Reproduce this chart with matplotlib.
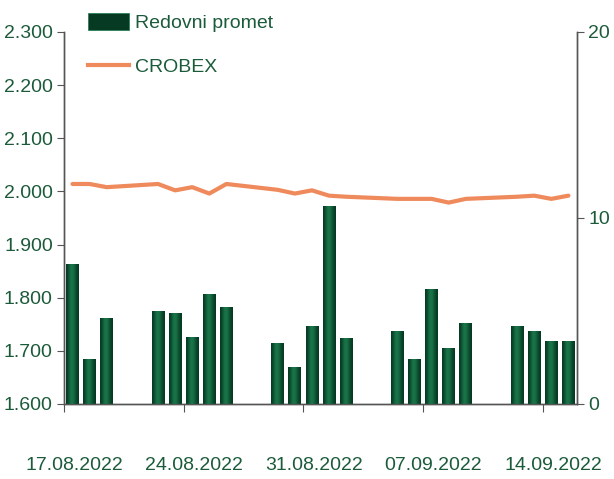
import datetime as dt

import matplotlib
matplotlib.use('Agg')
import matplotlib.pyplot as plt
import matplotlib.dates as mdates
from matplotlib.lines import Line2D
from matplotlib.patches import Patch
import numpy as np

# ---------------------------------------------------------------------------
#  Data
# ---------------------------------------------------------------------------
trading_days = [
    '17.08.2022', '18.08.2022', '19.08.2022',
    '22.08.2022', '23.08.2022', '24.08.2022', '25.08.2022', '26.08.2022',
    '29.08.2022', '30.08.2022', '31.08.2022', '01.09.2022', '02.09.2022',
    '05.09.2022', '06.09.2022', '07.09.2022', '08.09.2022', '09.09.2022',
    '12.09.2022', '13.09.2022', '14.09.2022', '15.09.2022',
]
# regular turnover (right axis)
redovni_promet = [
    7.5, 2.4, 4.6,
    5.0, 4.9, 3.6, 5.9, 5.2,
    3.3, 2.0, 4.2, 10.65, 3.55,
    3.9, 2.4, 6.2, 3.0, 4.35,
    4.2, 3.9, 3.4, 3.4,
]
# CROBEX index (left axis)
crobex = [
    2014, 2014, 2008,
    2014, 2002, 2008, 1996, 2014,
    2003, 1996, 2002, 1992, 1990,
    1986, 1986, 1986, 1979, 1986,
    1990, 1992, 1986, 1992,
]
tick_days = ['17.08.2022', '24.08.2022', '31.08.2022', '07.09.2022', '14.09.2022']
x_start, x_end = '17.08.2022', '16.09.2022'

GREEN_TXT = '#1c5b3a'
BAR_DARK = '#063a22'
BAR_MID = '#1b7a4e'
ORANGE = '#ef8a5c'
AXIS_CLR = '#555555'
FS = 14

plt.rcParams['font.family'] = ['Liberation Sans Narrow', 'Liberation Sans', 'DejaVu Sans']


def to_num(s):
    return mdates.date2num(dt.datetime.strptime(s, '%d.%m.%Y'))


# bars / points sit in the middle of their day
x = np.array([to_num(d) for d in trading_days]) + 0.5

fig = plt.figure(figsize=(6.14, 4.79), dpi=100)
ax = fig.add_axes([0.1042, 0.1566, 0.8355, 0.7766])
ax2 = ax.twinx()

# left axis: CROBEX, right axis: turnover -> bars on ax2, kept behind the line
ax.set_zorder(2)
ax.patch.set_visible(False)

bars = ax2.bar(x, redovni_promet, width=0.75, color=BAR_DARK, linewidth=0, zorder=2)
grad = np.array([[0.0, 0.55, 1.0, 0.8, 0.35, 0.0]])
cmap = matplotlib.colors.LinearSegmentedColormap.from_list('bar', [BAR_DARK, BAR_MID])
for b in bars:
    x0, w, h = b.get_x(), b.get_width(), b.get_height()
    im = ax2.imshow(grad, cmap=cmap, aspect='auto', extent=[x0, x0 + w, 0, h],
                    interpolation='bicubic', zorder=3)
    im.set_clip_path(b)

ax.plot(x, crobex, color=ORANGE, lw=3, solid_capstyle='round')

ax.set_xlim(to_num(x_start), to_num(x_end))
ax.set_ylim(1600, 2300)
ax2.set_ylim(0, 20)

ax.set_yticks(np.arange(1600, 2301, 100))
ax.set_yticklabels([f'{v / 1000:.3f}' for v in range(1600, 2301, 100)])
ax2.set_yticks([0, 10, 20])

# tick marks at day boundaries, labels centred on the day
ax.set_xticks([to_num(d) for d in tick_days])
ax.set_xticklabels([])
ax.set_xticks([to_num(d) + 0.6 for d in tick_days], minor=True)
ax.set_xticklabels(tick_days, minor=True)
ax.tick_params(axis='x', which='minor', length=0, pad=38, labelsize=FS, labelcolor=GREEN_TXT)
ax.tick_params(axis='x', which='major', length=6, color=AXIS_CLR, direction='out')
ax.tick_params(axis='y', length=5, color=AXIS_CLR, labelsize=FS, labelcolor=GREEN_TXT, pad=3)
ax2.tick_params(axis='y', length=5, color=AXIS_CLR, labelsize=FS, labelcolor=GREEN_TXT, pad=3)

for a in (ax, ax2):
    a.spines['top'].set_visible(False)
    for s in ('left', 'right', 'bottom'):
        a.spines[s].set_color(AXIS_CLR)
        a.spines[s].set_linewidth(1.0)
ax2.tick_params(axis='x', which='both', length=0, labelbottom=False)

handles = [Patch(facecolor=BAR_DARK, edgecolor=BAR_MID, lw=0.5, label='Redovni promet'),
           Line2D([], [], color=ORANGE, lw=3, label='CROBEX')]
leg = ax.legend(handles=handles, loc='upper left', bbox_to_anchor=(0.047, 1.05),
                frameon=False, fontsize=FS, handlelength=2.1, handleheight=0.9,
                handletextpad=0.3, labelspacing=1.3, borderpad=0, borderaxespad=0)
for t in leg.get_texts():
    t.set_color(GREEN_TXT)

fig.savefig('out.png', dpi=100, facecolor='white')
